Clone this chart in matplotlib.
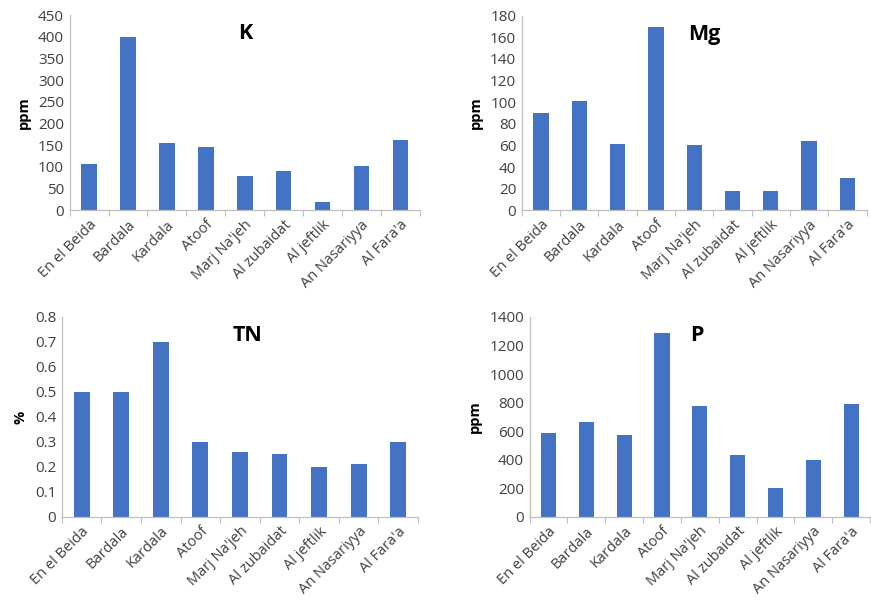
import numpy as np
import matplotlib
matplotlib.use("Agg")
import matplotlib.pyplot as plt
from matplotlib.ticker import FixedLocator, NullFormatter

plt.rcParams["font.family"] = ["Open Sans", "DejaVu Sans"]

sites = ["En el Beida", "Bardala", "Kardala", "Atoof", "Marj Na'jeh",
         "Al zubaidat", "Al jeftlik", "An Nasariyya", "Al Fara'a"]
k_ppm = [107, 400, 155, 145, 80, 90, 20, 103, 163]
mg_ppm = [90, 101, 61, 170, 60, 18, 18, 64, 30]
tn_pct = [0.5, 0.5, 0.7, 0.3, 0.26, 0.25, 0.2, 0.21, 0.3]
p_ppm = [590, 665, 575, 1290, 780, 435, 200, 400, 790]

BAR = "#4472C4"
AXIS = "#BFBFBF"

fig = plt.figure(figsize=(8.71, 6.06), dpi=100, facecolor="white")

panels = [
    # (rect, values, title, ylabel, ymax, ystep, yfmt, title_x)
    ([0.080, 0.653, 0.402, 0.322], k_ppm, "K", "ppm", 450, 50, "{:.0f}", 0.50),
    ([0.599, 0.653, 0.396, 0.321], mg_ppm, "Mg", "ppm", 180, 20, "{:.0f}", 0.53),
    ([0.071, 0.147, 0.409, 0.330], tn_pct, "TN", "%", 0.8, 0.1, "{:g}", 0.52),
    ([0.608, 0.147, 0.391, 0.330], p_ppm, "P", "ppm", 1400, 200, "{:.0f}", 0.49),
]

x = np.arange(len(sites))
for rect, vals, title, ylab, ymax, ystep, fmt, tx in panels:
    ax = fig.add_axes(rect)
    ax.bar(x, vals, width=0.4, color=BAR, zorder=2)
    ax.set_xlim(-0.5, len(sites) - 0.5)
    ax.set_ylim(0, ymax)
    yt = np.arange(0, ymax + ystep / 2, ystep)
    ax.set_yticks(yt)
    ax.set_yticklabels([fmt.format(round(v, 2)) for v in yt], fontsize=11, color="#404040")
    ax.set_xticks(x)
    ax.set_xticklabels(sites, rotation=45, ha="right", rotation_mode="anchor",
                       fontsize=10.5, color="#404040")
    ax.tick_params(axis="x", length=0, pad=5)
    ax.tick_params(axis="y", length=0, pad=4)
    # category separator ticks on the x axis
    ax.xaxis.set_minor_locator(FixedLocator(np.arange(-0.5, len(sites), 1.0)))
    ax.xaxis.set_minor_formatter(NullFormatter())
    ax.tick_params(axis="x", which="minor", length=4, color=AXIS, width=0.8)
    for side in ("top", "right"):
        ax.spines[side].set_visible(False)
    for side in ("left", "bottom"):
        ax.spines[side].set_color(AXIS)
        ax.spines[side].set_linewidth(0.9)
    ax.set_ylabel(ylab, fontsize=10.5, fontweight="bold", labelpad=5)
    ax.text(tx, 0.96, title, transform=ax.transAxes, ha="center", va="top",
            fontsize=15.5, fontweight="bold")

fig.savefig("out.png", dpi=100, facecolor="white")
